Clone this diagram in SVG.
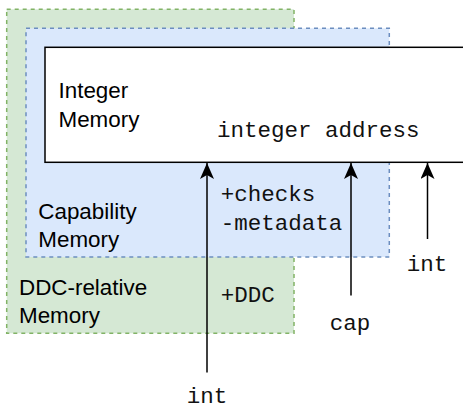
<svg xmlns="http://www.w3.org/2000/svg" width="463" height="410" viewBox="0 0 463 410">
<style>
.sans{font-family:"Liberation Sans",Arial,sans-serif;font-size:22.4px;fill:#000}
.mono{font-family:"Liberation Mono","Courier New",monospace;font-size:22.5px;fill:#111}
.conn{stroke:#000;stroke-width:1.5;fill:none}
</style>
<defs>
<marker id="arr" viewBox="0 0 16 14" refX="16" refY="7" markerWidth="16" markerHeight="14" markerUnits="userSpaceOnUse" orient="auto">
<path d="M0,0 L16,7 L0,14 L4,7 Z" fill="#000"/>
</marker>
</defs>
<g id="ddc">
<rect x="6.7" y="9.3" width="287.3" height="324" fill="#d5e8d4" stroke="#82b366" stroke-width="1.5" stroke-dasharray="4 4"/>
<text class="sans" x="19" y="295">DDC-relative</text>
<text class="sans" x="19" y="323.3">Memory</text>
</g>
<g id="cap">
<rect x="26" y="28.3" width="363.3" height="228.7" fill="#dae8fc" stroke="#6c8ebf" stroke-width="1.5" stroke-dasharray="4 4"/>
<text class="sans" x="38.3" y="218.5">Capability</text>
<text class="sans" x="38.3" y="246.7">Memory</text>
</g>
<g id="int">
<rect x="45" y="47.3" width="430" height="115" fill="#fff" stroke="#000" stroke-width="1.5"/>
<text class="sans" x="58.5" y="98">Integer</text>
<text class="sans" x="58.5" y="126.5">Memory</text>
<text class="mono" x="217" y="137">integer address</text>
</g>
<g id="connectors">
<line class="conn" x1="207" y1="372.6" x2="207" y2="163" marker-end="url(#arr)"/>
<line class="conn" x1="351" y1="295.6" x2="351" y2="163" marker-end="url(#arr)"/>
<line class="conn" x1="427.5" y1="239" x2="427.5" y2="163" marker-end="url(#arr)"/>
</g>
<g id="labels">
<text class="mono" x="220.7" y="200.7">+checks</text>
<text class="mono" x="220.7" y="230">-metadata</text>
<text class="mono" x="220.7" y="301.7">+DDC</text>
<text class="mono" x="350" y="330" text-anchor="middle">cap</text>
<text class="mono" x="207" y="403" text-anchor="middle">int</text>
<text class="mono" x="427" y="271" text-anchor="middle">int</text>
</g>
</svg>
